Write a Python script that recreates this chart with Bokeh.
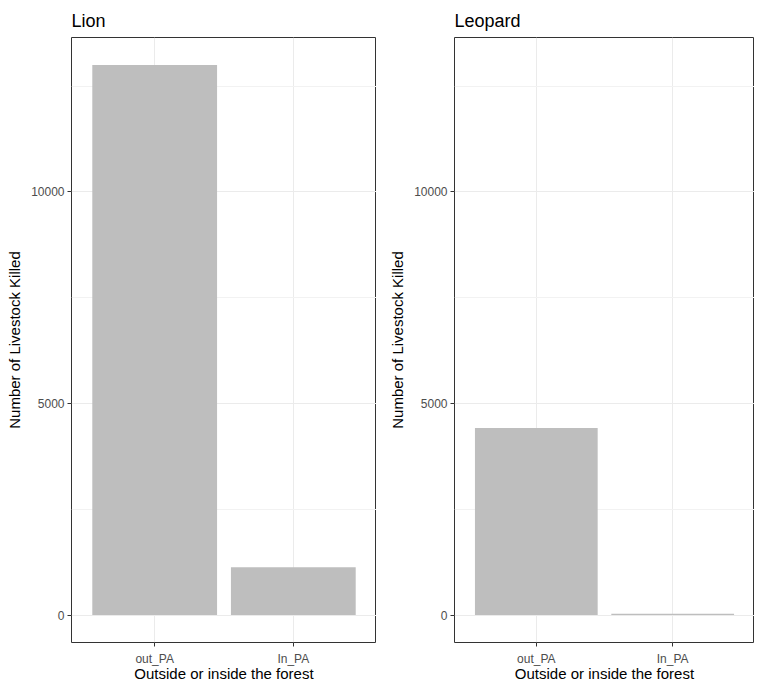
from bokeh.plotting import figure
from bokeh.layouts import row, column, Spacer
from bokeh.models import Range1d, FactorRange, FixedTicker, ColumnDataSource
from bokeh.embed import file_html
from bokeh.resources import INLINE

categories = ["out_PA", "In_PA"]
lion_values = [13000, 1130]
leopard_values = [4420, 30]
titles = ["Lion", "Leopard"]
y_ticks = [0, 5000, 10000]
y_minor = [2500, 7500, 12500]

FONT = "Liberation Sans"


def make_panel(title, values, frame_w):
    src = ColumnDataSource(dict(cat=categories, val=values))
    p = figure(
        x_range=FactorRange(*categories, range_padding=0.1, range_padding_units="absolute"),
        y_range=Range1d(-650, 13650),
        frame_width=frame_w, frame_height=605,
        output_backend="svg", toolbar_location=None,
        min_border_left=0, min_border_right=0,
        min_border_top=0, min_border_bottom=0,
    )
    p.vbar(x="cat", top="val", width=0.9, source=src, fill_color="#BEBEBE", line_color=None)
    p.title.text = title
    p.title.text_font = FONT
    p.title.text_font_size = "18px"
    p.title.text_font_style = "normal"
    p.title.text_color = "black"
    p.title.align = "left"
    p.title.offset = 0
    p.title.standoff = 14

    p.outline_line_color = "#333333"
    p.outline_line_width = 1
    p.background_fill_color = "white"
    p.border_fill_color = "white"

    p.yaxis.ticker = FixedTicker(ticks=y_ticks, minor_ticks=y_minor)
    p.yaxis.axis_label = "Number of Livestock Killed"
    p.xaxis.axis_label = "Outside or inside the forest"
    for ax in (p.xaxis, p.yaxis):
        ax.axis_line_color = None
        ax.major_tick_line_color = "#333333"
        ax.major_tick_in = 0
        ax.major_tick_out = 4
        ax.minor_tick_line_color = None
        ax.major_label_text_font = FONT
        ax.major_label_text_font_size = "12px"
        ax.major_label_text_color = "#4D4D4D"
        ax.axis_label_text_font = FONT
        ax.axis_label_text_font_size = "15px"
        ax.axis_label_text_font_style = "normal"
        ax.axis_label_text_color = "black"
        ax.major_label_standoff = 3
    p.xaxis.major_label_standoff = 5
    p.xaxis.axis_label_standoff = -4
    p.yaxis.axis_label_standoff = 5

    p.xgrid.grid_line_color = "#EBEBEB"
    p.ygrid.grid_line_color = "#EBEBEB"
    p.ygrid.minor_grid_line_color = "#F2F2F2"
    return p


p1 = make_panel(titles[0], lion_values, 305)
p2 = make_panel(titles[1], leopard_values, 300)
layout = column(
    Spacer(height=1),
    row(Spacer(width=3), p1, Spacer(width=10), p2, spacing=0),
    spacing=0,
)

open("out.html", "w").write(file_html(layout, INLINE))
